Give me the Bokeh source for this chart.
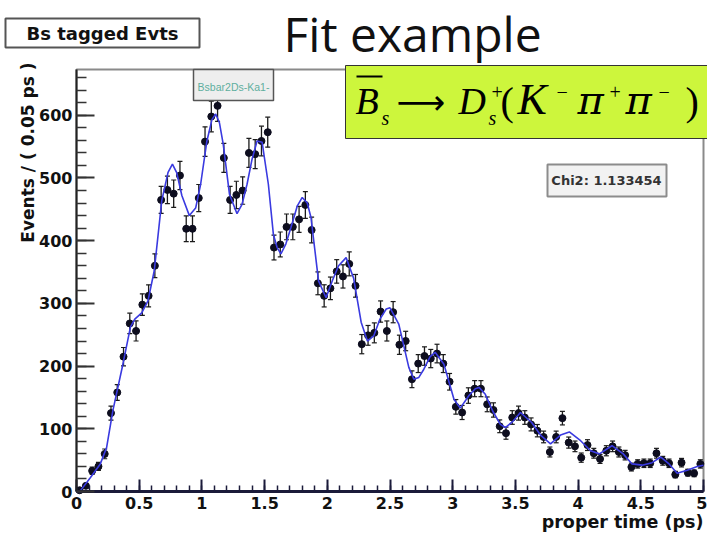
import numpy as np
from bokeh.plotting import figure
from bokeh.models import (Range1d, FixedTicker, PrintfTickFormatter, Label,
                          BoxAnnotation, ColumnDataSource)
from bokeh.embed import file_html
from bokeh.resources import INLINE

# ---- data: tagged Bs candidates per 0.05 ps bin ----
bin_centers = [0.025, 0.075, 0.125, 0.175, 0.225, 0.275, 0.325, 0.375, 0.425, 0.475,
               0.525, 0.575, 0.625, 0.675, 0.725, 0.775, 0.825, 0.875, 0.925, 0.975,
               1.025, 1.075, 1.125, 1.175, 1.225, 1.275, 1.325, 1.375, 1.425, 1.475,
               1.525, 1.575, 1.625, 1.675, 1.725, 1.775, 1.825, 1.875, 1.925, 1.975,
               2.025, 2.075, 2.125, 2.175, 2.225, 2.275, 2.325, 2.375, 2.425, 2.475,
               2.525, 2.575, 2.625, 2.675, 2.725, 2.775, 2.825, 2.875, 2.925, 2.975,
               3.025, 3.075, 3.125, 3.175, 3.225, 3.275, 3.325, 3.375, 3.425, 3.475,
               3.525, 3.575, 3.625, 3.675, 3.725, 3.775, 3.825, 3.875, 3.925, 3.975,
               4.025, 4.075, 4.125, 4.175, 4.225, 4.275, 4.325, 4.375, 4.425, 4.475,
               4.525, 4.575, 4.625, 4.675, 4.725, 4.775, 4.825, 4.875, 4.925, 4.975]
events = [2, 9, 33, 40, 60, 125, 158, 215, 268, 256,
          298, 312, 360, 465, 481, 475, 504, 419, 419, 468,
          558, 598, 615, 532, 465, 473, 480, 540, 538, 559,
          573, 389, 394, 422, 422, 434, 457, 417, 332, 312,
          324, 351, 343, 363, 328, 235, 249, 253, 287, 256,
          286, 234, 240, 179, 204, 216, 212, 220, 204, 175,
          135, 126, 153, 164, 164, 139, 130, 104, 93, 118,
          125, 118, 107, 97, 87, 63, 87, 117, 78, 72,
          54, 74, 61, 52, 65, 72, 63, 58, 39, 44,
          45, 45, 61, 49, 45, 27, 46, 30, 29, 44]

# ---- fitted proper-time model ----
fit_time = [0.0, 0.03, 0.11, 0.19, 0.24, 0.29, 0.37, 0.43, 0.465, 0.52,
            0.57, 0.62, 0.68, 0.73, 0.765, 0.80, 0.84, 0.90, 0.95, 0.99,
            1.04, 1.08, 1.11, 1.14, 1.17, 1.22, 1.28, 1.32, 1.36, 1.40,
            1.44, 1.48, 1.53, 1.57, 1.60, 1.63, 1.67, 1.71, 1.76, 1.80,
            1.84, 1.87, 1.93, 1.99, 2.04, 2.09, 2.15, 2.21, 2.27, 2.32,
            2.37, 2.42, 2.47, 2.50, 2.57, 2.65, 2.69, 2.73, 2.77, 2.82,
            2.86, 2.93, 3.01, 3.06, 3.13, 3.18, 3.21, 3.26, 3.32, 3.38,
            3.42, 3.48, 3.54, 3.63, 3.70, 3.78, 3.86, 3.93, 4.02, 4.10,
            4.17, 4.27, 4.36, 4.43, 4.51, 4.59, 4.66, 4.72, 4.79, 4.87,
            4.95, 5.0]
fit_events = [0, 1, 22, 44, 70, 129, 203, 262, 275, 285,
              304, 352, 464, 509, 522, 508, 472, 440, 452, 490,
              559, 593, 602, 588, 554, 474, 443, 458, 490, 530,
              559, 557, 490, 410, 389, 379, 395, 421, 455, 469,
              460, 437, 336, 309, 336, 360, 373, 340, 270, 240,
              248, 275, 291, 293, 267, 198, 179, 182, 195, 215,
              222, 203, 147, 133, 153, 164, 166, 155, 128, 107,
              102, 112, 126, 110, 90, 76, 90, 95, 81, 65,
              60, 73, 60, 44, 42, 46, 55, 45, 29, 34,
              40, 42]

x_ticks = [0, 0.5, 1, 1.5, 2, 2.5, 3, 3.5, 4, 4.5, 5]
y_ticks = [0, 100, 200, 300, 400, 500, 600]

BIN_HALF = 0.025
X_MAX, Y_MAX = 5.0, 673.0

# histogram frame on the 707x537 canvas (pixels); the plot area spans the
# whole canvas so that the pads around the histogram can be drawn too
W, H = 707, 537
FL, FR, FT, FB = 76, 703, 69, 491

SANS = "DejaVu Sans"
SERIF = "Liberation Serif"


def dx(px):
    return (px - FL) / (FR - FL) * X_MAX


def dy(py):
    return (FB - py) / (FB - FT) * Y_MAX


t = np.array(bin_centers)
n = np.array(events, dtype=float)
err = np.sqrt(n)
src = ColumnDataSource(dict(t=t, n=n, lo=n - err, hi=n + err,
                            tl=t - BIN_HALF, tr=t + BIN_HALF))

p = figure(width=W, height=H, title=None,
           x_range=Range1d(dx(0), dx(W)), y_range=Range1d(dy(H), dy(0)),
           output_backend="svg", toolbar_location=None, min_border=0)
p.xgrid.visible = False
p.ygrid.visible = False
p.background_fill_color = "white"
p.border_fill_color = "white"
p.outline_line_color = None

# histogram frame (top and right edges show; axes cover the other two)
p.add_layout(BoxAnnotation(left=0, right=X_MAX, bottom=0, top=Y_MAX,
                           fill_alpha=0, line_color="#8a8a8a", line_width=2,
                           line_alpha=1, level="underlay"))

# axes in the ROOT style: ticks pointing into the frame
ax = p.xaxis[0]
ax.fixed_location = 0
ax.bounds = (0, X_MAX)
ax.ticker = FixedTicker(ticks=x_ticks, minor_ticks=list(np.round(np.arange(0, 5.001, 0.1), 2)))
ax.formatter = PrintfTickFormatter(format="%g")
ax.axis_line_color = "#1b1b3a"
ax.axis_line_width = 3
ax.major_tick_in, ax.major_tick_out = 12, 0
ax.minor_tick_in, ax.minor_tick_out = 6, 0
ax.major_tick_line_color = ax.minor_tick_line_color = "#1b1b3a"
ax.major_tick_line_width = 2
ax.minor_tick_line_width = 1.5
ax.major_label_text_font = SANS
ax.major_label_text_font_style = "bold"
ax.major_label_text_font_size = "16px"
ax.major_label_text_color = "#111111"
ax.major_label_standoff = 5

ay = p.yaxis[0]
ay.fixed_location = 0
ay.bounds = (0, Y_MAX)
ay.ticker = FixedTicker(ticks=y_ticks, minor_ticks=list(range(0, 680, 20)))
ay.axis_line_color = "#222222"
ay.axis_line_width = 2
ay.major_tick_in, ay.major_tick_out = 18, 0
ay.minor_tick_in, ay.minor_tick_out = 10, 0
ay.major_tick_line_color = ay.minor_tick_line_color = "#333333"
ay.major_tick_line_width = 2
ay.minor_tick_line_width = 1.5
ay.major_label_text_font = SANS
ay.major_label_text_font_style = "bold"
ay.major_label_text_font_size = "16px"
ay.major_label_text_color = "#111111"
ay.major_label_standoff = 4

# data with Poisson errors and bin-width horizontal bars
p.segment(x0="t", y0="lo", x1="t", y1="hi", source=src, line_color="#1a1a1a", line_width=1.3)
p.scatter(x="t", y="lo", source=src, marker="dash", size=5, line_color="#1a1a1a", line_width=1.2)
p.scatter(x="t", y="hi", source=src, marker="dash", size=5, line_color="#1a1a1a", line_width=1.2)
p.segment(x0="tl", y0="n", x1="tr", y1="n", source=src, line_color="#111111", line_width=1.6)
p.scatter(x="t", y="n", source=src, marker="circle", size=7, fill_color="#0d0d1e",
          line_color="#0d0d1e")

# fit curve
p.line(fit_time, fit_events, line_color="#3a3ae0", line_width=1.6)


def box(l, r, top, bot, fill, line, lw):
    p.add_layout(BoxAnnotation(left=dx(l), right=dx(r), top=dy(top), bottom=dy(bot),
                               fill_color=fill, fill_alpha=1, line_color=line,
                               line_width=lw, line_alpha=1 if line else 0))


box(5, 199, 18, 47, "white", "#555555", 2)
box(193, 273, 69, 100, "#eeeeee", "#555555", 1.5)
box(345, 712, 65, 138, "#cdf63c", "#333333", 1)
box(547, 666, 164, 196, "#f2f2f2", "#8c8c8c", 2)
box(356, 382, 75, 77, "black", None, 0)   # overline of the B


def text(s, px, py, size, font=SANS, style="normal", color="black",
         align="left", angle=0.0):
    # py is the vertical middle of the text line
    p.add_layout(Label(x=dx(px), y=dy(py), text=s, text_font=font,
                       text_font_style=style, text_font_size=f"{size}px",
                       text_color=color, text_align=align, text_baseline="middle",
                       angle=angle))


text("Bs tagged Evts", 102, 33, 18, style="bold", color="#111111", align="center")
text("Fit example", 283, 33, 48, font="Open Sans", color="#111111")
text("Bsbar2Ds-Ka1-", 233, 86, 10.5, font="Liberation Sans", color="#5fae9e",
     align="center")
text("Chi2: 1.133454", 606, 180, 13, style="bold", color="#333333", align="center")
text("proper time (ps)", 703, 521, 17.5, style="bold", color="#111111", align="right")
text("Events / ( 0.05 ps )", 27, 62, 17, style="bold", color="#111111",
     align="right", angle=np.pi / 2)

# decay formula
text("B", 355, 100, 38, font=SERIF, style="italic")
text("s", 381, 117, 20, font=SERIF, style="italic")
text("\u27f6", 396, 101, 34)
text("D", 458, 100, 38, font=SERIF, style="italic")
text("s", 488, 117, 20, font=SERIF, style="italic")
text("+", 491, 91, 20, font=SERIF)
text("(", 500, 101, 40, font=SERIF)
text("K", 517, 99, 44, font=SERIF, style="italic")
text("\u2212", 556, 91, 20, font=SERIF)
text("\u03c0", 577, 99, 40, font="DejaVu Serif", style="italic")
text("+", 609, 91, 20, font=SERIF)
text("\u03c0", 625, 99, 40, font="DejaVu Serif", style="italic")
text("\u2212", 658, 91, 20, font=SERIF)
text(")", 685, 101, 40, font=SERIF)

open("out.html", "w").write(file_html(p, INLINE))
